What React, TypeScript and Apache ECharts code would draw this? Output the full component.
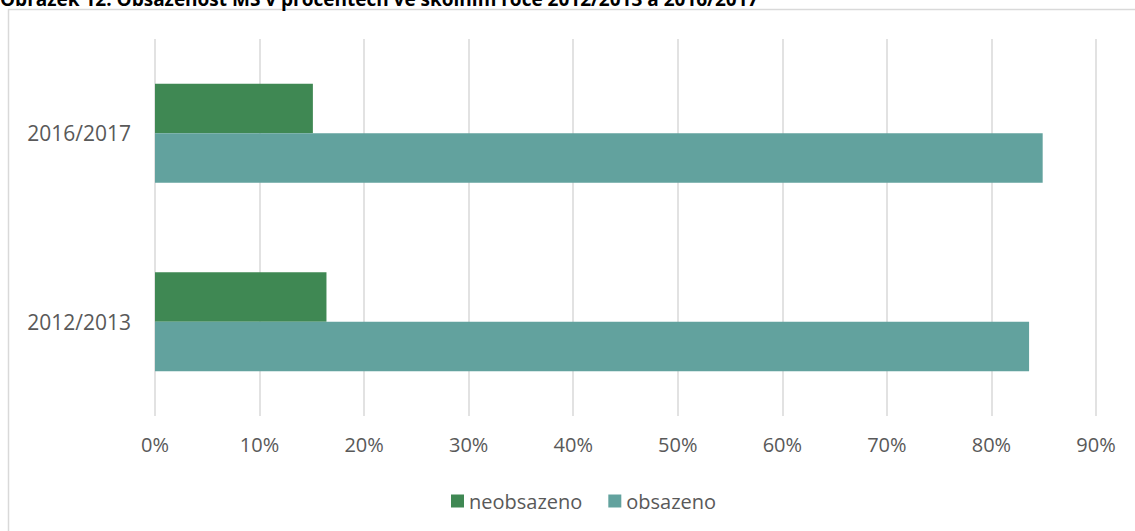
import React, { useEffect, useRef } from "react";
import * as echarts from "echarts";

const categories = ["2012/2013", "2016/2017"];
const neobsazeno = [16.4, 15.1];
const obsazeno = [83.6, 84.9];
const seriesNames = ["neobsazeno", "obsazeno"];
const titleText = "Obrázek 12: Obsazenost MŠ v procentech ve školním roce 2012/2013 a 2016/2017";

export default function App() {
  const ref = useRef<HTMLDivElement>(null);
  useEffect(() => {
    if (!ref.current) return;
    const chart = echarts.init(ref.current, null, { renderer: "svg" });
    chart.setOption({
      animation: false,
      backgroundColor: "#ffffff",
      textStyle: { fontFamily: "Open Sans" },
      graphic: [
        {
          type: "rect",
          shape: { x: 8.5, y: 9.5, width: 1140, height: 600 },
          style: { fill: "none", stroke: "#d9d9d9", lineWidth: 1.5 },
          silent: true,
        },
        {
          type: "text",
          x: 0,
          y: -11,
          style: {
            text: titleText,
            fontFamily: "Open Sans",
            fontWeight: "bold",
            fontSize: 19,
            fill: "#000000",
          },
        },
      ],
      grid: { left: 155, right: 39, top: 39, bottom: 115, containLabel: false },
      legend: {
        data: seriesNames,
        left: 446,
        top: 486,
        itemWidth: 13,
        itemHeight: 13,
        itemGap: 26,
        icon: "rect",
        textStyle: { fontSize: 20, color: "#595959", fontFamily: "Open Sans", padding: [0, 0, 0, 0] },
      },
      xAxis: {
        type: "value",
        min: 0,
        max: 90,
        interval: 10,
        axisLine: { show: false },
        axisTick: { show: false },
        splitLine: { show: true, lineStyle: { color: "#d9d9d9", width: 1.5 } },
        axisLabel: {
          formatter: "{value}%",
          fontSize: 20,
          color: "#595959",
          margin: 18,
          fontFamily: "Open Sans",
        },
      },
      yAxis: {
        type: "category",
        data: categories,
        axisLine: { show: false },
        axisTick: { show: false },
        axisLabel: { fontSize: 21, color: "#595959", margin: 24, fontFamily: "Open Sans" },
      },
      series: [
        {
          name: "neobsazeno",
          type: "bar",
          data: neobsazeno,
          barGap: "0%",
          barCategoryGap: "47.5%",
          itemStyle: { color: "#3f8853" },
        },
        {
          name: "obsazeno",
          type: "bar",
          data: obsazeno,
          barGap: "0%",
          barCategoryGap: "47.5%",
          itemStyle: { color: "#62a29e" },
        },
      ],
    });
    return () => chart.dispose();
  }, []);
  return (
    <div
      ref={ref}
      style={{ position: "absolute", left: 0, top: 0, width: 1135, height: 531, background: "#fff" }}
    />
  );
}
